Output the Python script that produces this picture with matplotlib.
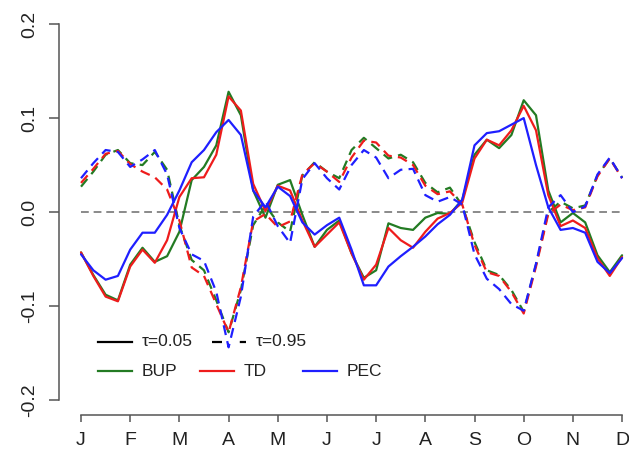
import matplotlib
matplotlib.use("Agg")
import matplotlib.pyplot as plt
from matplotlib.lines import Line2D
import numpy as np

# months as positions 0..11, curves sampled every quarter month
MONTHS = ["J", "F", "M", "A", "M", "J", "J", "A", "S", "O", "N", "D"]
STEP = 0.25
Y_TICKS = [-0.2, -0.1, 0.0, 0.1, 0.2]

bup_05 = [-0.043, -0.067, -0.088, -0.094, -0.056, -0.038, -0.053, -0.047, -0.021, 0.034,
          0.048, 0.071, 0.128, 0.103, 0.023, -0.006, 0.029, 0.034, -0.003, -0.037,
          -0.019, -0.009, -0.044, -0.070, -0.062, -0.012, -0.017, -0.019, -0.006, -0.001,
          -0.002, 0.013, 0.061, 0.077, 0.068, 0.082, 0.119, 0.103, 0.023, -0.011,
          -0.001, -0.011, -0.046, -0.064, -0.046]
td_05 = [-0.043, -0.068, -0.090, -0.095, -0.058, -0.040, -0.054, -0.030, 0.016, 0.036,
         0.037, 0.061, 0.123, 0.108, 0.030, 0.001, 0.028, 0.023, -0.009, -0.037,
         -0.024, -0.011, -0.044, -0.072, -0.056, -0.017, -0.030, -0.038, -0.021, -0.007,
         -0.001, 0.010, 0.057, 0.077, 0.071, 0.087, 0.113, 0.087, 0.018, -0.015,
         -0.009, -0.017, -0.049, -0.068, -0.048]
pec_05 = [-0.045, -0.062, -0.072, -0.068, -0.040, -0.022, -0.022, -0.003, 0.023, 0.053,
          0.066, 0.085, 0.098, 0.082, 0.023, 0.005, 0.027, 0.017, -0.011, -0.024,
          -0.014, -0.006, -0.040, -0.078, -0.078, -0.058, -0.047, -0.037, -0.026, -0.013,
          -0.003, 0.013, 0.071, 0.084, 0.086, 0.093, 0.100, 0.050, 0.005, -0.019,
          -0.017, -0.022, -0.053, -0.065, -0.049]

bup_95 = [0.027, 0.043, 0.061, 0.066, 0.052, 0.050, 0.064, 0.045, -0.014, -0.051,
          -0.062, -0.094, -0.128, -0.083, -0.014, 0.007, -0.011, -0.021, 0.039, 0.053,
          0.043, 0.036, 0.066, 0.079, 0.068, 0.057, 0.061, 0.053, 0.031, 0.021,
          0.026, 0.007, -0.032, -0.062, -0.067, -0.083, -0.106, -0.056, 0.000, 0.011,
          0.004, 0.007, 0.039, 0.057, 0.037]
td_95 = [0.031, 0.046, 0.062, 0.065, 0.051, 0.043, 0.037, 0.024, -0.009, -0.059,
         -0.068, -0.098, -0.128, -0.080, -0.010, -0.002, -0.016, -0.010, 0.040, 0.052,
         0.043, 0.032, 0.058, 0.076, 0.074, 0.060, 0.058, 0.050, 0.028, 0.019,
         0.022, 0.008, -0.035, -0.064, -0.068, -0.085, -0.108, -0.058, -0.002, 0.008,
         0.002, 0.005, 0.038, 0.057, 0.036]
pec_95 = [0.036, 0.052, 0.066, 0.064, 0.048, 0.056, 0.066, 0.040, -0.017, -0.045,
          -0.052, -0.085, -0.144, -0.090, -0.005, 0.012, -0.015, -0.033, 0.035, 0.052,
          0.036, 0.024, 0.050, 0.066, 0.058, 0.036, 0.045, 0.046, 0.018, 0.011,
          0.016, 0.008, -0.045, -0.071, -0.082, -0.098, -0.105, -0.055, 0.005, 0.018,
          0.000, 0.006, 0.040, 0.058, 0.036]

GREEN = "#237b23"
RED = "#ee1c1c"
BLUE = "#1f1fff"
AXIS_COL = "#555555"
TXT_COL = "#222222"
LW = 1.6
DASH = (0, (4.5, 2.8))

plt.rcParams["font.family"] = ["Liberation Sans", "DejaVu Sans"]

fig = plt.figure(figsize=(6.29, 4.5), dpi=100)
ax = fig.add_axes([0.0944, 0.0778, 0.929, 0.902])

x = np.arange(len(bup_05)) * STEP

ax.plot([0, 11], [0, 0], color="#8a8a8a", lw=1.4, linestyle=(0, (4, 2.5)))

for sol, das, col in [(bup_05, bup_95, GREEN), (td_05, td_95, RED), (pec_05, pec_95, BLUE)]:
    ax.plot(x, sol, color=col, lw=LW, solid_capstyle="round", solid_joinstyle="round")
    ax.plot(x, das, color=col, lw=LW, linestyle=DASH, dash_joinstyle="round")

ax.set_xlim(-0.44, 11.44)
ax.set_ylim(-0.216, 0.216)

for s in ["top", "right"]:
    ax.spines[s].set_visible(False)
ax.spines["left"].set_bounds(-0.2, 0.2)
ax.spines["bottom"].set_bounds(0, 11)
for s in ["left", "bottom"]:
    ax.spines[s].set_color(AXIS_COL)
    ax.spines[s].set_linewidth(1.1)

ax.set_xticks(range(12))
ax.set_xticklabels(MONTHS)
ax.set_yticks(Y_TICKS)
ax.set_yticklabels([f"{v:.1f}" for v in Y_TICKS])
ax.tick_params(axis="y", length=7.5, width=1.1, color=AXIS_COL, pad=8,
               labelsize=14, labelcolor=TXT_COL)
ax.tick_params(axis="x", length=5, width=1.1, color=AXIS_COL, pad=7,
               labelsize=14, labelcolor=TXT_COL)
for lab in ax.get_yticklabels():
    lab.set_rotation(90)
    lab.set_va("center")

# legend drawn by hand to keep R-style spacing (pixel positions of the reference)
W, H = 629.0, 450.0


def legend_item(x0, y0, color, style, label):
    fx0, fx1 = x0 / W, (x0 + 34) / W
    fy = 1 - y0 / H
    fig.add_artist(Line2D([fx0, fx1], [fy, fy], transform=fig.transFigure,
                          color=color, lw=LW, linestyle=style))
    fig.text((x0 + 44) / W, fy, label, fontsize=12.5, color=TXT_COL,
             va="center", ha="left")


legend_item(98, 342, "black", "-", "τ=0.05")
legend_item(212, 342, "black", (0, (4.5, 8)), "τ=0.95")
legend_item(98, 371, GREEN, "-", "BUP")
legend_item(200, 371, RED, "-", "TD")
legend_item(303, 371, BLUE, "-", "PEC")

fig.savefig("out.png", dpi=100)
